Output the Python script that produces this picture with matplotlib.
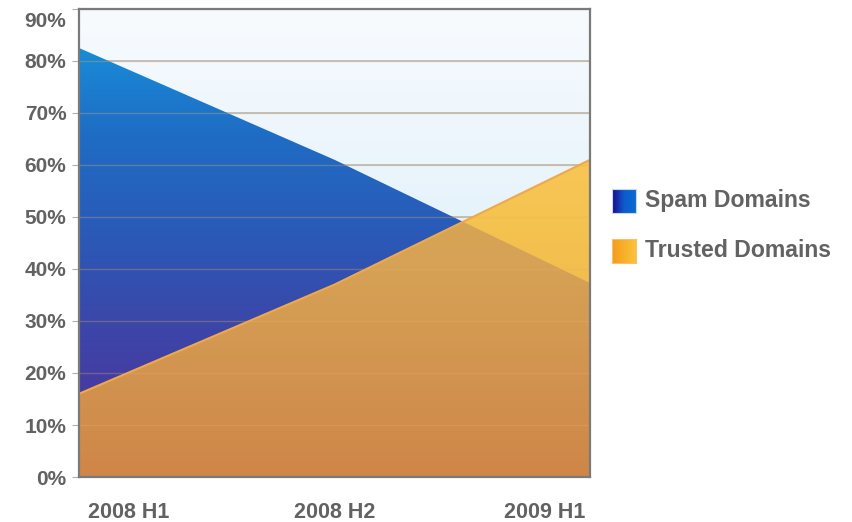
import numpy as np
import matplotlib
matplotlib.use("Agg")
import matplotlib.pyplot as plt
import matplotlib.transforms as mtrans
from matplotlib.colors import LinearSegmentedColormap

periods = ["2008 H1", "2008 H2", "2009 H1"]
spam = [82.5, 61, 37.3]
trusted = [16, 37, 61]
y_ticks = [0, 10, 20, 30, 40, 50, 60, 70, 80, 90]
legend_names = ["Spam Domains", "Trusted Domains"]

plt.rcParams['font.family'] = ['Liberation Sans', 'DejaVu Sans']
text_col = '#626262'

fig = plt.figure(figsize=(8.53, 5.22), dpi=100)
ax = fig.add_axes([0.0926, 0.0862, 0.5991, 0.8966])
x = np.arange(len(periods))
ax.set_xlim(0, 2)
ax.set_ylim(0, 90)


def vgrad(colors, clip=None, y0=0, y1=90, z=1, alpha=1.0):
    cm = LinearSegmentedColormap.from_list('g', colors)
    g = np.linspace(0, 1, 256).reshape(-1, 1)
    im = ax.imshow(g, cmap=cm, aspect='auto', origin='lower', extent=[0, 2, y0, y1],
                   zorder=z, alpha=alpha, interpolation='bilinear')
    if clip is not None:
        im.set_clip_path(clip.get_paths()[0], ax.transData)
    return im


# background
vgrad(['#d6ebf9', '#e4f2fb', '#f8fbfe'], z=0)

for t in y_ticks:
    ax.axhline(t, color='#b4b8bc', lw=1.2, zorder=0.5)

# spam area
sp = ax.fill_between(x, 0, spam, facecolor='none', edgecolor='none')
vgrad(['#4a36a0', '#3c46a8', '#2a5ab8', '#1f6cc4', '#188ed9'], clip=sp, y0=10, y1=84, z=1)

# trusted area (overlap tone) and the part above spam
tr = ax.fill_between(x, 0, trusted, facecolor='none', edgecolor='none')
vgrad(['#cf8648', '#d29450', '#d6a255', '#d8a856'], clip=tr, y0=0, y1=61, z=2)
top = ax.fill_between(x, spam, trusted, where=np.array(trusted) >= np.array(spam),
                      interpolate=True, facecolor='none', edgecolor='none')
vgrad(['#f2bd4e', '#f5c350', '#f7c655'], clip=top, y0=37, y1=61, z=3)
ax.plot(x, trusted, color='#f0a848', lw=1.5, zorder=4)

# faint grid through fills
for t in y_ticks:
    ax.axhline(t, color='#e8b060', lw=1.0, alpha=0.3, zorder=3.5)

for s in ax.spines.values():
    s.set_color('#7a7a7a')
    s.set_linewidth(1.6)
    s.set_zorder(5)

ax.set_yticks(y_ticks)
ax.set_yticklabels([f"{t}%" for t in y_ticks], fontsize=15, fontweight='bold', color=text_col)
ax.tick_params(axis='y', length=5, color='#b0b0b0', pad=4)
ylabs = ax.get_yticklabels()
ylabs[-1].set_transform(ylabs[-1].get_transform() + mtrans.ScaledTranslation(0, -11 / 100, fig.dpi_scale_trans))
ax.set_xticks(x)
ax.set_xticklabels(periods, fontsize=15.5, fontweight='bold', color=text_col)
ax.tick_params(axis='x', length=0, pad=18)
labs = ax.get_xticklabels()
labs[0].set_ha('left')
labs[-1].set_ha('right')
labs[0].set_transform(labs[0].get_transform() + mtrans.ScaledTranslation(9 / 100, 0, fig.dpi_scale_trans))
labs[-1].set_transform(labs[-1].get_transform() + mtrans.ScaledTranslation(-5 / 100, 0, fig.dpi_scale_trans))

# legend swatches
sw = [(['#1e0a8c', '#0c5ccc', '#0a6ad2'], 0.592), (['#f59a1c', '#f8b028', '#fbc23c'], 0.497)]
for (cols, yb), name in zip(sw, legend_names):
    lax = fig.add_axes([612 / 853, yb, 24 / 853, 24 / 522])
    cm = LinearSegmentedColormap.from_list('s', cols)
    lax.imshow(np.linspace(0, 1, 64).reshape(1, -1), cmap=cm, aspect='auto')
    lax.set_xticks([])
    lax.set_yticks([])
    for s in lax.spines.values():
        s.set_color('#c8d8f0' if yb > 0.55 else '#f5c070')
        s.set_linewidth(0.8)
    fig.text(645 / 853, yb + 12 / 522, name, fontsize=16.6, fontweight='bold',
             color=text_col, va='center', ha='left')

fig.savefig('out.png', dpi=100)
